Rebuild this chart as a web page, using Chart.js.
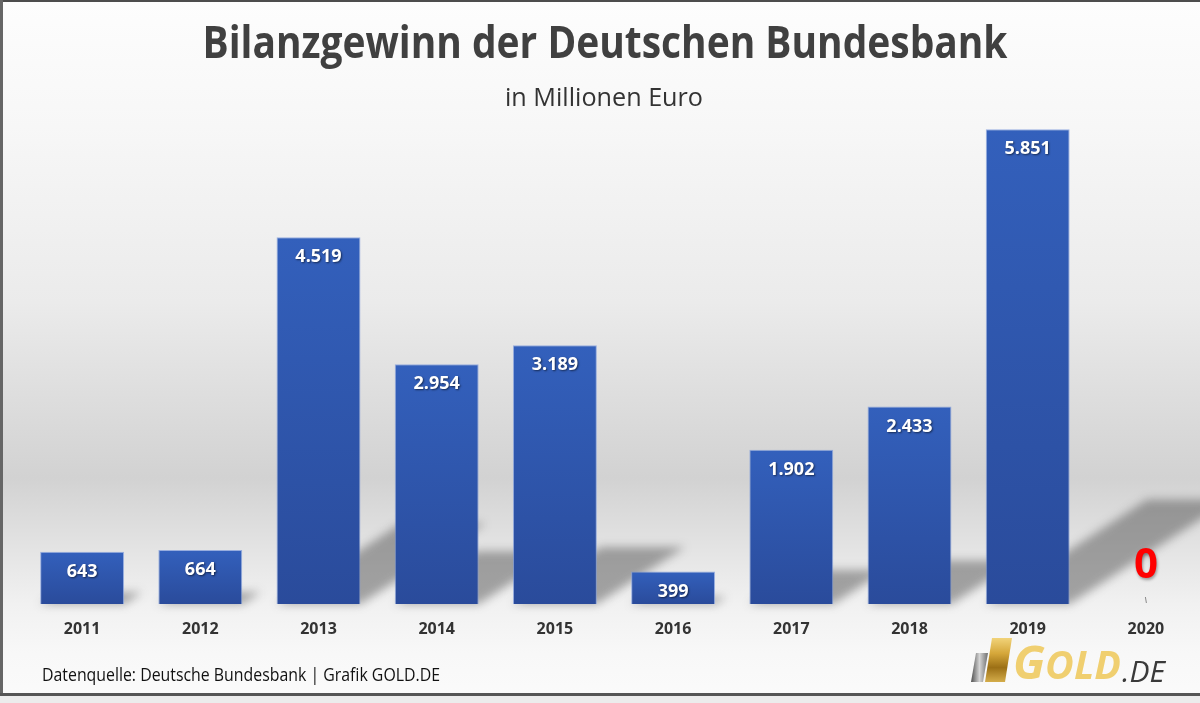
<!DOCTYPE html>
<html lang="de">
<head>
<meta charset="utf-8">
<title>Bilanzgewinn der Deutschen Bundesbank</title>
<script src="https://cdn.jsdelivr.net/npm/chart.js@4.4.0/dist/chart.umd.min.js"></script>
<style>
  html, body { margin: 0; padding: 0; background: #fff; overflow: hidden; }
  #wrap { position: relative; width: 1206px; height: 703px; }
</style>
</head>
<body>
<div id="wrap"><canvas id="chart" width="1206" height="703"></canvas></div>
<script>
// ========================
// DATEN
// ========================
const jahre = ["2011", "2012", "2013", "2014", "2015", "2016", "2017", "2018", "2019", "2020"];
const gewinn = [643, 664, 4519, 2954, 3189, 399, 1902, 2433, 5851, 0];
const yMax = 7000;

const titel = "Bilanzgewinn der Deutschen Bundesbank";
const untertitel = "in Millionen Euro";
const quelle = "Datenquelle: Deutsche Bundesbank | Grafik GOLD.DE";

const FONT = "'Open Sans', 'Noto Sans', sans-serif";

// Zahl im deutschen Format (Tausenderpunkt)
function formatDE(v) {
  return String(v).replace(/\B(?=(\d{3})+(?!\d))/g, ".");
}

// Text horizontal auf eine Zielbreite stauchen (Calibri ist schmaler)
function fitText(ctx, text, x, y, w, align) {
  const m = ctx.measureText(text).width;
  const s = w / m;
  ctx.save();
  ctx.translate(x, y);
  ctx.scale(s, 1);
  ctx.textAlign = align;
  ctx.fillText(text, 0, 0);
  ctx.restore();
}

// ========================
// BALKENFARBE
// ========================
function balkenFarbe(c) {
  const chart = c.chart;
  const y = chart.scales && chart.scales.y;
  if (!y || !c.raw) return "#2f56b0";
  const top = y.getPixelForValue(c.raw);
  const base = y.getPixelForValue(0);
  if (!isFinite(top) || base - top < 1) return "#2f56b0";
  const g = chart.ctx.createLinearGradient(0, top, 0, base);
  g.addColorStop(0, "#3360bc");
  g.addColorStop(1, "#2a4b9b");
  return g;
}

// ========================
// PLUGINS
// ========================
const hintergrund = {
  id: "hintergrund",
  beforeDraw(chart) {
    const { ctx, width, height } = chart;
    const g = ctx.createLinearGradient(0, 0, 0, height);
    g.addColorStop(0, "#fdfdfd");
    g.addColorStop(0.18, "#f7f7f7");
    g.addColorStop(0.43, "#ebebeb");
    g.addColorStop(0.68, "#d2d2d2");
    g.addColorStop(0.8, "#e7e7e7");
    g.addColorStop(0.86, "#f1f1f1");
    g.addColorStop(0.93, "#f8f8f8");
    g.addColorStop(1, "#fbfbfb");
    ctx.save();
    ctx.fillStyle = g;
    ctx.fillRect(0, 0, width, height);
    ctx.restore();
  }
};

// Schlagschatten: Balken nach hinten rechts auf den "Boden" projiziert
const schatten = {
  id: "schatten",
  beforeDatasetsDraw(chart) {
    const { ctx } = chart;
    const meta = chart.getDatasetMeta(0);
    ctx.save();
    ctx.filter = "blur(5px)";
    ctx.fillStyle = "rgba(55,55,55,0.42)";
    meta.data.forEach((bar) => {
      const h = bar.base - bar.y;
      if (h < 2) return;
      const left = bar.x - bar.width / 2;
      const right = bar.x + bar.width / 2;
      const dx = 0.34 * h, dy = 0.22 * h;
      ctx.beginPath();
      ctx.moveTo(left, bar.base);
      ctx.lineTo(right, bar.base);
      ctx.lineTo(right + dx, bar.base - dy);
      ctx.lineTo(left + dx, bar.base - dy);
      ctx.closePath();
      ctx.fill();
    });
    ctx.restore();
  }
};

const werte = {
  id: "werte",
  afterDatasetsDraw(chart) {
    const { ctx } = chart;
    const meta = chart.getDatasetMeta(0);
    ctx.save();
    ctx.textAlign = "center";
    ctx.textBaseline = "middle";
    meta.data.forEach((bar, i) => {
      const v = gewinn[i];
      if (v > 0) {
        ctx.font = "bold 18px " + FONT;
        ctx.fillStyle = "#ffffff";
        ctx.shadowColor = "rgba(0,0,0,0.55)";
        ctx.shadowBlur = 2;
        ctx.shadowOffsetX = 1;
        ctx.shadowOffsetY = 1;
        ctx.fillText(formatDE(v), bar.x, bar.y + 20);
      } else {
        ctx.font = "bold 42px " + FONT;
        ctx.fillStyle = "#ff0000";
        ctx.shadowColor = "rgba(0,0,0,0.35)";
        ctx.shadowBlur = 3;
        ctx.shadowOffsetX = 1;
        ctx.shadowOffsetY = 2;
        ctx.fillText(formatDE(v), bar.x, bar.base - 38);
        ctx.shadowColor = "transparent";
        ctx.strokeStyle = "#8a8a8a";
        ctx.lineWidth = 1;
        ctx.beginPath();
        ctx.moveTo(bar.x - 0.5, bar.base - 7);
        ctx.lineTo(bar.x + 0.5, bar.base - 1);
        ctx.stroke();
      }
    });
    ctx.restore();
  }
};

const texte = {
  id: "texte",
  afterDraw(chart) {
    const { ctx, width } = chart;
    ctx.save();
    ctx.textBaseline = "alphabetic";

    // Titel
    ctx.font = "bold 44px " + FONT;
    ctx.fillStyle = "#404040";
    fitText(ctx, titel, 605, 58, 805, "center");

    // Untertitel
    ctx.font = "26px " + FONT;
    ctx.fillStyle = "#333333";
    fitText(ctx, untertitel, 604, 106, 198, "center");

    // Quelle
    ctx.font = "19px " + FONT;
    ctx.fillStyle = "#111111";
    fitText(ctx, quelle, 42, 681, 398, "left");

    // Logo: Barren
    const grau = ctx.createLinearGradient(971, 0, 988, 0);
    grau.addColorStop(0, "#4f4f4f");
    grau.addColorStop(0.5, "#d5d5d5");
    grau.addColorStop(1, "#6e6e6e");
    ctx.fillStyle = grau;
    ctx.beginPath();
    ctx.moveTo(971, 682); ctx.lineTo(983, 682); ctx.lineTo(988, 653); ctx.lineTo(976, 653);
    ctx.closePath(); ctx.fill();

    const gold = ctx.createLinearGradient(0, 637, 0, 684);
    gold.addColorStop(0, "#f3d67e");
    gold.addColorStop(0.35, "#d5a73a");
    gold.addColorStop(0.65, "#9c7016");
    gold.addColorStop(1, "#dcb552");
    ctx.fillStyle = gold;
    ctx.beginPath();
    ctx.moveTo(985, 682); ctx.lineTo(1005, 682); ctx.lineTo(1012, 638); ctx.lineTo(992, 638);
    ctx.closePath(); ctx.fill();

    // Logo: Schrift
    const goldText = ctx.createLinearGradient(0, 645, 0, 680);
    goldText.addColorStop(0, "#f0cf70");
    goldText.addColorStop(0.4, "#d2a335");
    goldText.addColorStop(0.75, "#94691a");
    goldText.addColorStop(1, "#cfa646");
    ctx.fillStyle = goldText;
    ctx.font = "italic bold 46px " + FONT;
    const wG = ctx.measureText("G").width;
    ctx.font = "italic bold 39px " + FONT;
    const wOLD = ctx.measureText("OLD").width;
    const s = 108 / (wG + wOLD);
    ctx.save();
    ctx.translate(1013, 679);
    ctx.scale(s, 1);
    ctx.textAlign = "left";
    ctx.font = "italic bold 46px " + FONT;
    ctx.fillText("G", 0, 0);
    ctx.font = "italic bold 39px " + FONT;
    ctx.fillText("OLD", wG, 0);
    ctx.restore();

    ctx.fillStyle = "#3a3a3a";
    ctx.font = "italic 29px " + FONT;
    fitText(ctx, ".DE", 1122, 682, 43, "left");

    // Rahmen
    ctx.fillStyle = "#4d4d4d";
    ctx.fillRect(0, 0, width, 2);
    ctx.fillStyle = "#666666";
    ctx.fillRect(0, 0, 3, 695);
    ctx.fillStyle = "#555555";
    ctx.fillRect(0, 693, width, 3);
    ctx.fillStyle = "#ececec";
    ctx.fillRect(0, 696, width, 7);
    ctx.restore();
  }
};

// ========================
// DIAGRAMM
// ========================
const ctx = document.getElementById("chart").getContext("2d");
new Chart(ctx, {
  type: "bar",
  data: {
    labels: jahre,
    datasets: [{
      label: "Bilanzgewinn",
      data: gewinn,
      backgroundColor: balkenFarbe,
      borderColor: "rgba(125,155,220,0.75)",
      borderWidth: (c) => (c.raw ? 1 : 0),
      barPercentage: 0.71,
      categoryPercentage: 1
    }]
  },
  options: {
    responsive: false,
    animation: false,
    layout: { padding: { left: 23, right: 1, top: 36, bottom: 47.8 } },
    plugins: {
      legend: { display: false },
      tooltip: { enabled: false }
    },
    scales: {
      x: {
        grid: { display: false, drawTicks: false },
        border: { display: false },
        ticks: {
          padding: 16,
          color: "#333333",
          font: { family: FONT, size: 16, weight: "bold" }
        }
      },
      y: {
        display: false,
        min: 0,
        max: yMax
      }
    }
  },
  plugins: [hintergrund, schatten, werte, texte]
});
</script>
</body>
</html>
